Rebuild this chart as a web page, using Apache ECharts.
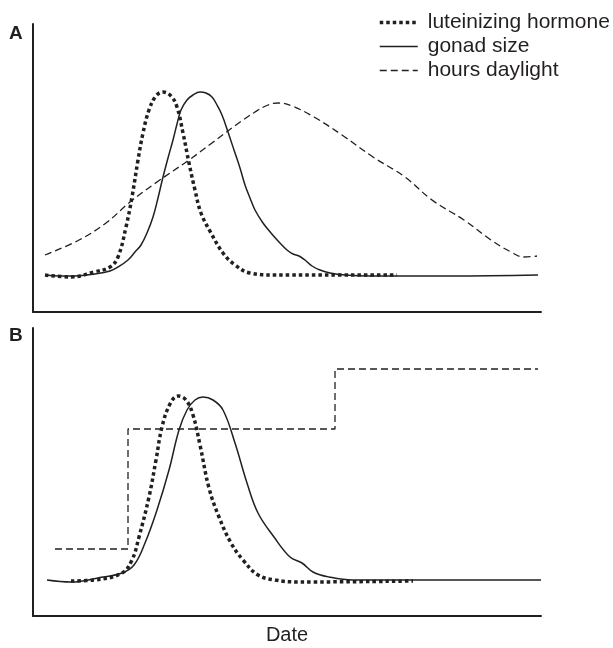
<!DOCTYPE html>
<html>
<head>
<meta charset="utf-8">
<script src="https://cdn.jsdelivr.net/npm/echarts@6/dist/echarts.min.js"></script>
<style>
    html, body { margin: 0; padding: 0; background: #fff; }
    #chart { width: 613px; height: 648px; }
</style>
</head>
<body>
<div id="chart"></div>
<script>
    // panel A - natural daylight
    var gonadA = [[12,37],[27,36],[42,36],[62,38],[77,41],[85,45],[95,52],[102,60],[108,67],[114,79],[120,95],[125,114],[130,135],[135,154],[140,172],[144,188],[148,202],[154,212],[160,217],[167,220],[173,219],[179,215],[184,207],[189,197],[195,180],[201,162],[207,144],[212,127],[217,114],[222,102],[230,89],[238,79],[246,70],[254,62],[260,58],[266,56],[272,52],[279,46],[287,42],[297,39],[312,37],[337,36],[417,36],[505,37]];
    var lhA = [[12,37],[38,35],[61,40],[77,45],[85,55],[93,85],[99,115],[105,152],[110,179],[116,202],[123,216],[130,220],[138,216],[144,205],[150,179],[156,149],[162,122],[168,99],[178,79],[190,59],[202,47],[217,39],[242,37],[364,37]];
    var daylightA = [[12,57],[46,72],[73,89],[97,110],[124,130],[156,152],[179,169],[203,187],[222,200],[235,207],[245,209],[259,206],[281,195],[309,177],[340,155],[372,135],[399,112],[431,92],[458,72],[478,60],[491,55],[504,56]];

    // panel B - stepped daylight
    var gonadB = [[14,36],[38,34],[65,38],[89,43],[101,51],[112,73],[124,106],[136,146],[146,186],[154,206],[162,216],[170,219],[180,216],[190,206],[202,173],[214,133],[225,103],[241,79],[257,59],[269,53],[280,44],[296,39],[320,36],[508,36]];
    var lhB = [[38,35],[61,36],[89,43],[99,56],[106,79],[116,119],[123,156],[129,189],[137,212],[145,220],[153,216],[160,201],[167,171],[176,128],[186,99],[198,73],[210,56],[225,41],[242,36],[266,34],[380,35]];
    var daylightB = [[22,67],[95,187],[302,247],[505,247]];

    var names = ['luteinizing hormone', 'gonad size', 'hours daylight'];

    var ink = '#231f20';
    var lhStyle = { color: ink, width: 3.5, type: [3.5, 3], cap: 'butt' };
    var gonadStyle = { color: ink, width: 1.5, type: 'solid' };
    var dayStyle = { color: ink, width: 1.3, type: [7, 4] };
    var noSymbol = { color: 'rgba(0,0,0,0)', borderWidth: 0, opacity: 0 };

    function axis(extra) {
        var a = {
            type: 'value',
            min: 0,
            axisLine: { show: true, onZero: false, lineStyle: { color: ink, width: 2 } },
            axisTick: { show: false },
            axisLabel: { show: false },
            splitLine: { show: false }
        };
        for (var k in extra) a[k] = extra[k];
        return a;
    }

    function line(name, idx, data, style, extra) {
        var s = {
            name: name,
            type: 'line',
            xAxisIndex: idx,
            yAxisIndex: idx,
            data: data,
            symbol: 'none',
            showSymbol: false,
            smooth: 0.4,
            lineStyle: style,
            itemStyle: { color: ink },
            silent: true,
            animation: false
        };
        for (var k in extra) s[k] = extra[k];
        return s;
    }

    var chart = echarts.init(document.getElementById('chart'));
    var option = {
        backgroundColor: '#fff',
        animation: false,
        legend: {
            orient: 'vertical',
            left: 373,
            top: 7,
            itemWidth: 38,
            itemHeight: 14,
            itemGap: 3,
            selectedMode: false,
            itemStyle: noSymbol,
            data: [
                { name: names[0], lineStyle: lhStyle, itemStyle: noSymbol },
                { name: names[1], lineStyle: gonadStyle, itemStyle: noSymbol },
                { name: names[2], lineStyle: dayStyle, itemStyle: noSymbol }
            ],
            textStyle: { fontFamily: 'Liberation Sans', fontSize: 21, color: ink, padding: [0, 0, 0, 5] }
        },
        graphic: [
            { type: 'text', left: 9, top: 24, style: { text: 'A', font: 'bold 19px "Liberation Sans"', fill: ink } },
            { type: 'text', left: 9, top: 326, style: { text: 'B', font: 'bold 19px "Liberation Sans"', fill: ink } }
        ],
        grid: [
            { left: 33, top: 24, width: 508, height: 288 },
            { left: 33, top: 328, width: 508, height: 288 }
        ],
        xAxis: [
            axis({ gridIndex: 0, max: 508 }),
            axis({
                gridIndex: 1, max: 508,
                name: 'Date', nameLocation: 'middle', nameGap: 9,
                nameTextStyle: { fontFamily: 'Liberation Sans', fontSize: 20, color: ink, verticalAlign: 'top' }
            })
        ],
        yAxis: [
            axis({ gridIndex: 0, max: 288 }),
            axis({ gridIndex: 1, max: 288 })
        ],
        series: [
            line(names[2], 0, daylightA, dayStyle),
            line(names[1], 0, gonadA, gonadStyle),
            line(names[0], 0, lhA, lhStyle),
            line(names[2], 1, daylightB, dayStyle, { smooth: false, step: 'end' }),
            line(names[1], 1, gonadB, gonadStyle),
            line(names[0], 1, lhB, lhStyle)
        ]
    };
    chart.setOption(option);
</script>
</body>
</html>
